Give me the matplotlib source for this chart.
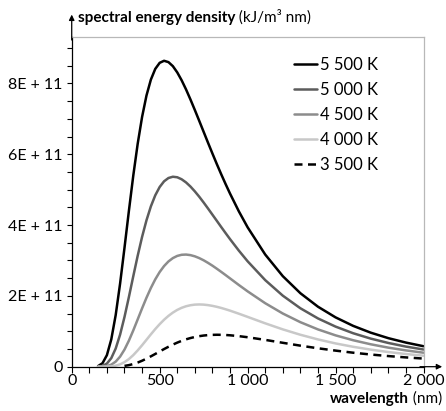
import matplotlib
matplotlib.use("Agg")
import matplotlib.pyplot as plt
from matplotlib.ticker import MultipleLocator

plt.rcParams["font.family"] = ["Lato", "DejaVu Sans"]

# wavelength (nm) and spectral energy density (in units of 1E+11)
wl = [150, 175, 200, 225, 250, 275, 300, 325, 350, 375, 400, 425, 450, 475, 500, 525, 550,
      575, 600, 625, 650, 675, 700, 725, 750, 775, 800, 825, 850, 875, 900, 950, 1000,
      1100, 1200, 1300, 1400, 1500, 1600, 1700, 1800, 1900, 2000]
t5500 = [0.018, 0.098, 0.326, 0.773, 1.459, 2.347, 3.356, 4.399, 5.398, 6.295, 7.053, 7.658,
         8.108, 8.411, 8.582, 8.640, 8.602, 8.488, 8.311, 8.088, 7.830, 7.547, 7.249, 6.943,
         6.633, 6.324, 6.020, 5.722, 5.434, 5.156, 4.889, 4.389, 3.937,
         3.168, 2.557, 2.075, 1.694, 1.393, 1.153, 0.961, 0.806, 0.681, 0.578]
t5000 = [0.003, 0.022, 0.088, 0.242, 0.513, 0.906, 1.403, 1.967, 2.556, 3.132, 3.665, 4.134,
         4.528, 4.841, 5.075, 5.236, 5.329, 5.365, 5.350, 5.293, 5.204, 5.088, 4.951, 4.800,
         4.637, 4.467, 4.293, 4.119, 3.944, 3.772, 3.603, 3.279, 2.977,
         2.445, 2.006, 1.650, 1.363, 1.132, 0.945, 0.793, 0.670, 0.568, 0.485]
t4500 = [0.000, 0.004, 0.018, 0.058, 0.143, 0.284, 0.483, 0.735, 1.025, 1.335, 1.647, 1.947,
         2.223, 2.467, 2.674, 2.842, 2.973, 3.067, 3.129, 3.161, 3.167, 3.151, 3.117, 3.067,
         3.005, 2.932, 2.853, 2.767, 2.678, 2.587, 2.494, 2.308, 2.128,
         1.793, 1.502, 1.257, 1.053, 0.885, 0.747, 0.633, 0.538, 0.460, 0.395]
t4000 = [0.000, 0.000, 0.002, 0.010, 0.029, 0.066, 0.128, 0.215, 0.327, 0.460, 0.606, 0.760,
         0.914, 1.063, 1.201, 1.326, 1.435, 1.528, 1.604, 1.663, 1.707, 1.736, 1.753, 1.758,
         1.753, 1.739, 1.718, 1.691, 1.659, 1.622, 1.583, 1.497, 1.407,
         1.225, 1.054, 0.902, 0.770, 0.657, 0.562, 0.482, 0.414, 0.358, 0.310]
wl_3500 = wl[6:]
t3500 = [0.023, 0.044, 0.075, 0.117, 0.168, 0.227, 0.292, 0.360, 0.430, 0.498, 0.563, 0.624,
         0.680, 0.730, 0.773, 0.809, 0.839, 0.862, 0.880, 0.892, 0.899, 0.902, 0.900, 0.895,
         0.887, 0.863, 0.832,
         0.757, 0.675, 0.594, 0.520, 0.454, 0.395, 0.344, 0.300, 0.262, 0.229]

y_ticks = [0, 2, 4, 6, 8]
y_labels = ["0", "2E + 11", "4E + 11", "6E + 11", "8E + 11"]
x_ticks = [0, 500, 1000, 1500, 2000]
x_labels = ["0", "500", "1 000", "1 500", "2 000"]

fig = plt.figure(figsize=(4.46, 4.11), dpi=100)
ax = fig.add_axes([0.1608, 0.1078, 0.7888, 0.8029])

lw = 1.8
ax.plot(wl, t5500, color="#000000", lw=lw, label="5 500 K", solid_capstyle="round")
ax.plot(wl, t5000, color="#5c5c5c", lw=lw, label="5 000 K", solid_capstyle="round")
ax.plot(wl, t4500, color="#8c8c8c", lw=lw, label="4 500 K", solid_capstyle="round")
ax.plot(wl, t4000, color="#c8c8c8", lw=lw, label="4 000 K", solid_capstyle="round")
ax.plot(wl_3500, t3500, color="#000000", lw=lw, ls=(0, (3.2, 2.2)), label="3 500 K")

ax.set_xlim(0, 2000)
ax.set_ylim(0, 9.32)

ax.set_xticks(x_ticks)
ax.set_xticklabels(x_labels)
ax.xaxis.set_minor_locator(MultipleLocator(100))
ax.set_yticks(y_ticks)
ax.set_yticklabels(y_labels)
ax.yaxis.set_minor_locator(MultipleLocator(0.5))

ax.tick_params(axis="both", which="both", direction="out", width=0.8, color="black",
               labelsize=11.5)
ax.tick_params(axis="x", which="both", length=4, pad=1)
ax.tick_params(axis="y", which="both", length=3.5, pad=3)

for s in ["top", "right"]:
    ax.spines[s].set_color("#b8b8b8")
    ax.spines[s].set_linewidth(0.9)
for s in ["left", "bottom"]:
    ax.spines[s].set_color("black")
    ax.spines[s].set_linewidth(0.9)

# axis arrows
arrow = dict(arrowstyle="-|>", color="black", lw=0.9, mutation_scale=8,
             shrinkA=0, shrinkB=0)
ax.annotate("", xy=(0, 1.067), xytext=(0, 0.99), xycoords="axes fraction",
            arrowprops=arrow, annotation_clip=False)
ax.annotate("", xy=(1.053, 0), xytext=(0.99, 0), xycoords="axes fraction",
            arrowprops=arrow, annotation_clip=False)

leg = ax.legend(loc="upper left", bbox_to_anchor=(0.613, 0.96), frameon=False,
                fontsize=12, handlelength=1.4, handletextpad=0.15, labelspacing=0.55,
                borderaxespad=0)

# axis titles: bold part + normal part
t1 = fig.text(78 / 446, 1 - 25 / 411, "spectral energy density", fontsize=11,
              fontweight="bold", ha="left", va="bottom")
ax.annotate(" (kJ/m³ nm)", xy=(1, 0), xycoords=t1, fontsize=11, ha="left", va="bottom",
            annotation_clip=False)

t2 = fig.text(442 / 446, 1 - 406 / 411, " (nm)", fontsize=11, ha="right", va="bottom")
ax.annotate("wavelength", xy=(0, 0), xycoords=t2, fontsize=11, fontweight="bold",
            ha="right", va="bottom", annotation_clip=False)

fig.savefig("out.png", dpi=100)
